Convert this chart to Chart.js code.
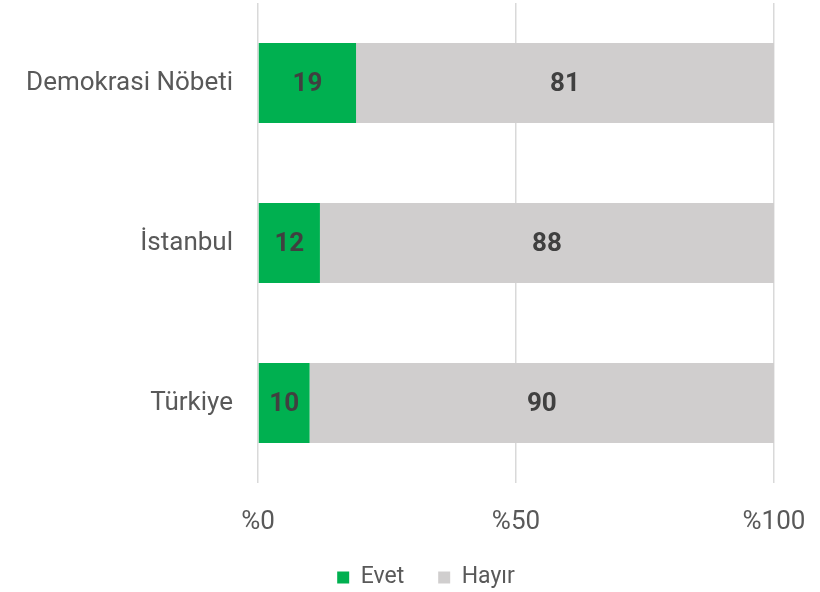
<!DOCTYPE html>
<html>
<head>
<meta charset="utf-8">
<script src="https://cdn.jsdelivr.net/npm/chart.js@4"></script>
<style>
  html, body { margin: 0; padding: 0; background: #fff; }
  #wrap { width: 820px; height: 592px; }
</style>
</head>
<body>
<div id="wrap"><canvas id="chart" width="820" height="592"></canvas></div>
<script>
const categories = ["Demokrasi Nöbeti", "İstanbul", "Türkiye"];
const evet = [19, 12, 10];
const hayir = [81, 88, 90];
const tickValues = [0, 50, 100];

const textColor = "#595959";
const fontFamily = "'Roboto', 'Liberation Sans', sans-serif";

// value labels in the middle of each segment
const barLabels = {
  id: "barLabels",
  afterDatasetsDraw(chart) {
    const ctx = chart.ctx;
    ctx.save();
    ctx.font = "bold 26px 'Roboto', 'DejaVu Sans', sans-serif";
    ctx.fillStyle = "#404040";
    ctx.textAlign = "center";
    ctx.textBaseline = "middle";
    chart.data.datasets.forEach((ds, i) => {
      chart.getDatasetMeta(i).data.forEach((bar, j) => {
        const p = bar.getProps(["x", "y", "base"], true);
        ctx.fillText(ds.data[j], (p.x + p.base) / 2, p.y + 1);
      });
    });
    ctx.restore();
  }
};

// keep the legend short and place it under the plot, a bit right of centre
const legendPlace = {
  id: "legendPlace",
  afterInit(chart) {
    const legend = chart.legend;
    const fit = legend.fit;
    legend.fit = function () {
      fit.call(this);
      this.height = 30;
    };
  },
  afterLayout(chart) {
    const legend = chart.legend;
    legend.left += 39;
    legend.right += 39;
    legend.top = 532;
    legend.bottom = chart.height;
  }
};

new Chart(document.getElementById("chart"), {
  type: "bar",
  data: {
    labels: categories,
    datasets: [
      { label: "Evet", data: evet, backgroundColor: "#00b050" },
      { label: "Hayır", data: hayir, backgroundColor: "#d0cece" }
    ]
  },
  options: {
    indexAxis: "y",
    responsive: false,
    animation: false,
    layout: { padding: { top: 3, right: 46, left: 0, bottom: 0 } },
    datasets: { bar: { categoryPercentage: 0.5, barPercentage: 1 } },
    scales: {
      x: {
        stacked: true,
        min: 0,
        max: 100,
        afterBuildTicks(axis) {
          axis.ticks = tickValues.map(v => ({ value: v }));
        },
        afterFit(axis) {
          axis.height = 79;
          axis.paddingLeft = 0;
          axis.paddingRight = 0;
        },
        grid: { color: "#d9d9d9", lineWidth: 1.5, drawTicks: false },
        border: { display: false },
        ticks: {
          padding: 24,
          color: textColor,
          font: { family: fontFamily, size: 26 },
          callback: v => "%" + v
        }
      },
      y: {
        stacked: true,
        afterFit(axis) {
          axis.width = 258;
          axis.paddingTop = 0;
          axis.paddingBottom = 0;
        },
        grid: { display: false, drawTicks: false },
        border: { display: false },
        ticks: {
          padding: 25,
          color: textColor,
          font: { family: fontFamily, size: 26 }
        }
      }
    },
    plugins: {
      legend: {
        position: "bottom",
        labels: {
          boxWidth: 12,
          boxHeight: 12,
          padding: 34,
          color: textColor,
          font: { family: fontFamily, size: 23 }
        }
      },
      tooltip: { enabled: false }
    }
  },
  plugins: [barLabels, legendPlace]
});
</script>
</body>
</html>
